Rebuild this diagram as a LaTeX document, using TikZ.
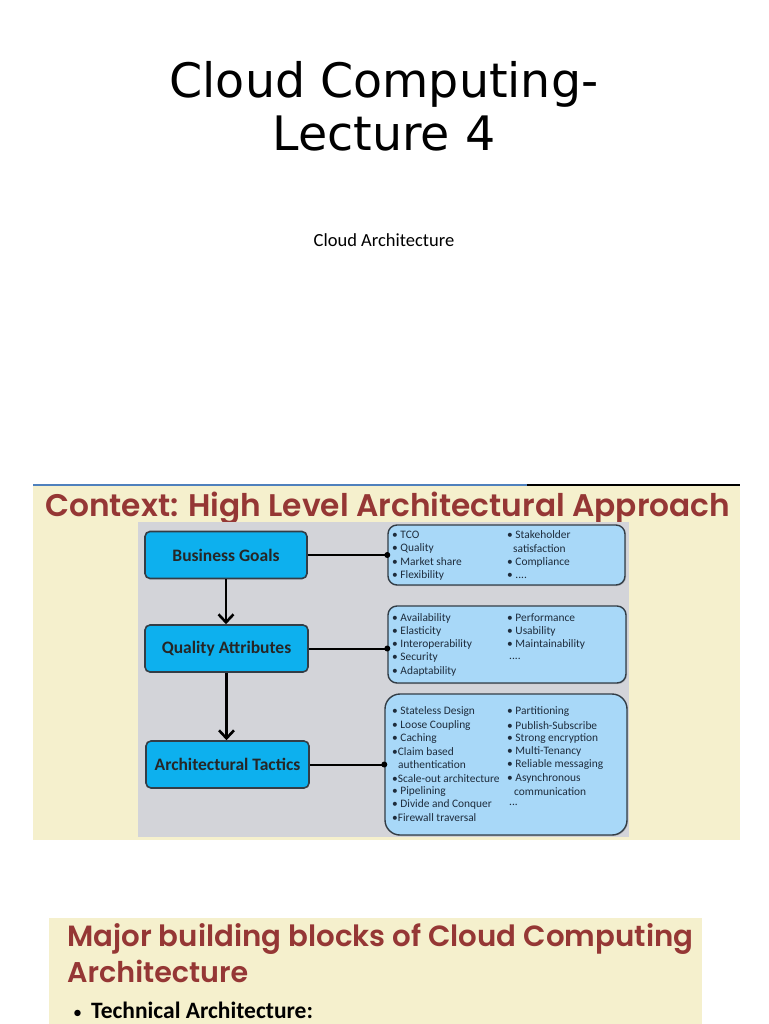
\documentclass[tikz,border=0pt]{standalone}
\usepackage{fontspec}
\usepackage{graphicx}
\setmainfont{DejaVu Sans}
\newfontfamily\carlito{Carlito}
\newfontfamily\popfont{Poppins SemiBold}
\usetikzlibrary{arrows.meta,shadows}
\definecolor{cream}{HTML}{F5F0CD}
\definecolor{panelgray}{HTML}{D3D4D9}
\definecolor{titlered}{HTML}{953735}
\definecolor{cyanbox}{HTML}{0DB0EE}
\definecolor{lightbox}{HTML}{A8D8F8}
\definecolor{boxedge}{HTML}{333D46}
\definecolor{listtext}{HTML}{1E2C3C}
\definecolor{rulecolor}{HTML}{4F81BD}
\tikzset{
  goalbox/.style={draw=boxedge, line width=1.6pt, fill=cyanbox, rounded corners=5pt,
    minimum width=162pt, minimum height=47pt, inner sep=0pt,
    font=\carlito\bfseries\fontsize{17.5}{20}\selectfont, text=black!85},
  listbox/.style={draw=boxedge, line width=1.4pt, fill=lightbox, rounded corners=9pt,
    inner sep=0pt, drop shadow={shadow xshift=1pt, shadow yshift=-1pt, opacity=0.35}},
  item/.style={anchor=west, inner sep=0pt, font=\carlito\fontsize{11.4}{13}\selectfont, text=listtext},
  link/.style={line width=2pt, black},
  godown/.style={line width=2.6pt, black, -{Straight Barb[length=8pt,width=15pt,line width=2.6pt]}},
  linkdot/.style={circle, fill=black, inner sep=0pt, minimum size=6pt},
  redtitle/.style={anchor=base west, inner sep=0pt, text=titlered}
}
\begin{document}
\begin{tikzpicture}[x=1pt,y=-1pt]
\useasboundingbox[fill=white] (0,0) rectangle (768,1024);

% Title slide
\node[anchor=base, inner sep=0pt, font=\fontsize{47.5}{55}\selectfont] (t1) at (384,98) {Cloud Computing-};
\node[anchor=base, inner sep=0pt, font=\fontsize{47.5}{55}\selectfont] (t2) at (384,151) {Lecture 4};
\node[anchor=base, inner sep=0pt, font=\carlito\fontsize{18.5}{20}\selectfont] (sub) at (384,246) {Cloud Architecture};

% Context panel
\fill[cream] (33,486) rectangle (740,840);
\draw[rulecolor, line width=2pt] (33,485) -- (527,485);
\draw[black, line width=2pt] (527,485) -- (740,485);
\node[redtitle] (ctitle) at (45,516) {\resizebox{685pt}{!}{\popfont Context: High Level Architectural Approach}};
\fill[panelgray] (138,522) rectangle (629,837);

% left boxes
\node[goalbox] (bg) at (226,555) {Business Goals};
\node[goalbox, minimum width=163pt] (qa) at (226.5,648.5) {Quality Attributes};
\node[goalbox, minimum width=163pt] (at) at (227.5,764.5) {Architectural Tactics};

% right list boxes
\node[listbox, minimum width=237pt, minimum height=60pt] (lb1) at (506.5,555) {};
\node[listbox, minimum width=238pt, minimum height=77pt] (lb2) at (507,644.5) {};
\node[listbox, minimum width=242pt, minimum height=141pt, rounded corners=15pt] (lb3) at (506,764.5) {};

% connectors
\draw[link] (bg.east) -- (bg.east -| lb1.west) node[linkdot] (d1) {};
\draw[link] (qa.east) -- (qa.east -| lb2.west) node[linkdot] (d2) {};
\draw[link] (at.east) -- (at.east -| lb3.west) node[linkdot] (d3) {};
\draw[godown] (bg.south) -- (bg.south |- qa.north);
\draw[godown] (qa.south) -- (qa.south |- at.north);

% list 1
\foreach \t [count=\i] in {{• TCO},{• Quality},{• Market share},{• Flexibility}}
  \node[item] (a\i) at (392,{535+13.5*(\i-1)}) {\t};
\foreach \xx/\t [count=\i] in {507/{• Stakeholder},513/{satisfaction},507/{• Compliance},507/{• ....}}
  \node[item] (b\i) at (\xx,{535+13.5*(\i-1)}) {\t};

% list 2
\foreach \t [count=\i] in {{• Availability},{• Elasticity},{• Interoperability},{• Security},{• Adaptability}}
  \node[item] (c\i) at (392,{618+13.25*(\i-1)}) {\t};
\foreach \t [count=\i] in {{• Performance},{• Usability},{• Maintainability}}
  \node[item] (e\i) at (507,{618+13.25*(\i-1)}) {\t};
\node[item] (e4) at (509,659) {....};

% list 3
\foreach \xx/\t [count=\i] in {392/{• Stateless Design},392/{• Loose Coupling},392/{• Caching},392/{•Claim based},398/{authentication},392/{•Scale-out architecture},392/{• Pipelining},392/{• Divide and Conquer},392/{•Firewall traversal}}
  \node[item] (f\i) at (\xx,{712+13.25*(\i-1)}) {\t};
\foreach \xx/\t [count=\i] in {507/{• Partitioning},507/{• Publish-Subscribe},507/{• Strong encryption},507/{• Multi-Tenancy},507/{• Reliable messaging},507/{• Asynchronous},514/{communication},509/{...}}
  \node[item] (g\i) at (\xx,{712+13.25*(\i-1)}) {\t};

% bottom panel
\fill[cream] (49,918) rectangle (702,1024);
\node[redtitle] (bt1) at (67,946) {\resizebox{626pt}{!}{\popfont Major building blocks of Cloud Computing}};
\node[redtitle] (bt2) at (67,982) {\resizebox{181pt}{!}{\popfont Architecture}};
\node[anchor=base west, inner sep=0pt, font=\carlito\fontsize{18}{24}\selectfont] (bul) at (73,1018) {•};
\node[anchor=base west, inner sep=0pt, font=\carlito\bfseries\fontsize{23.5}{26}\selectfont] (tech) at (91,1018) {Technical Architecture:};
\end{tikzpicture}
\end{document}
